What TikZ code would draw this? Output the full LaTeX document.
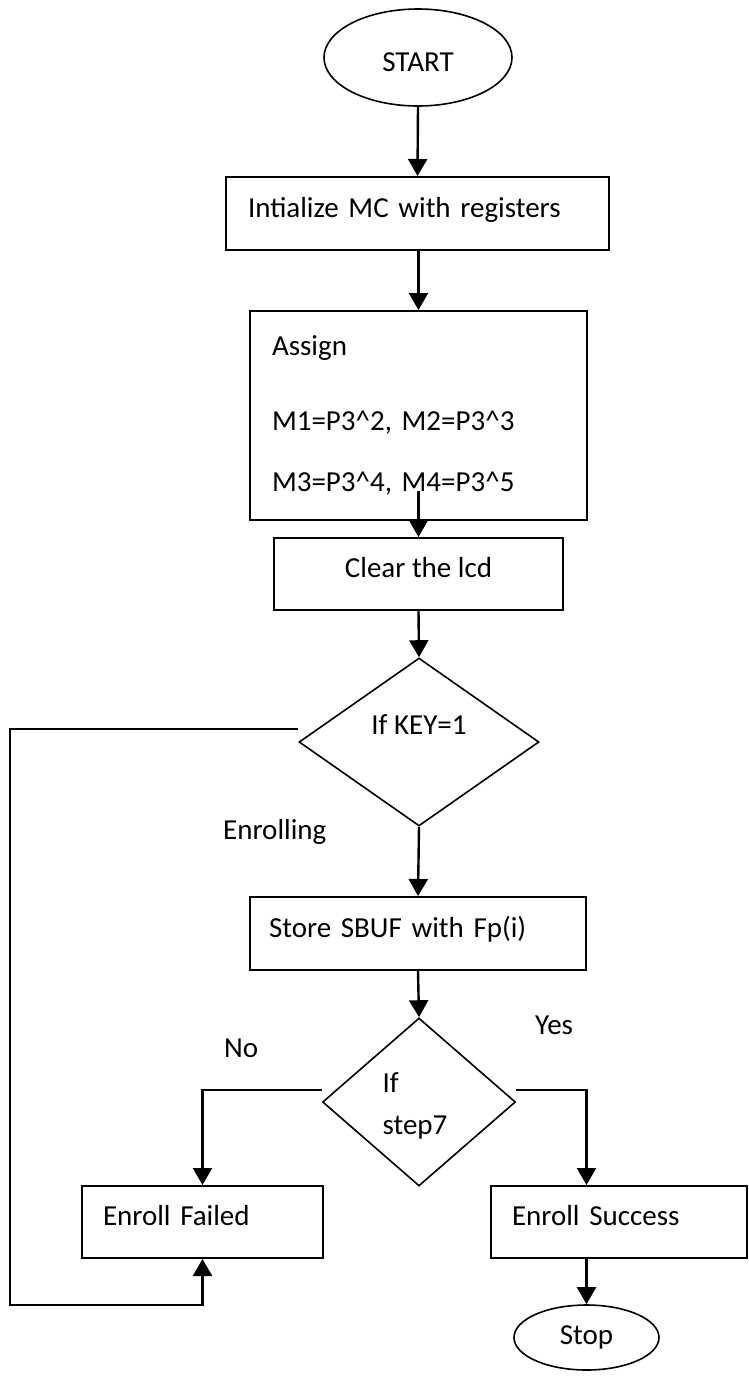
\documentclass[tikz,border=0pt]{standalone}
\usepackage{fontspec}
\setmainfont{Carlito}
\usetikzlibrary{shapes.geometric,arrows.meta}
\begin{document}
\begin{tikzpicture}[x=1pt,y=-1pt,
  font=\fontsize{29}{35}\selectfont,
  boxnode/.style={draw,line width=2pt,rectangle,inner ysep=0pt,minimum height=72pt,text height=22pt,text depth=15pt},
  leftbox/.style={boxnode,align=left,anchor=center},
  ovalnode/.style={draw,line width=1.6pt,ellipse,inner sep=0pt},
  decision/.style={draw,line width=1.6pt,diamond,inner sep=0pt},
  conn/.style={line width=2.4pt,-{Triangle[width=19pt,length=17pt]}}]
\useasboundingbox[fill=white] (0,0) rectangle (748,1377);

\node[ovalnode,minimum width=188pt,minimum height=97pt,label={[yshift=-5pt]center:START}] (start) at (418,57.5) {};

\node[leftbox,minimum width=383pt,minimum height=73pt,inner xsep=22pt,text width=339pt] (init) at (417.5,213.5) {Intialize MC with registers};

\node[draw,line width=2pt,rectangle,minimum width=337pt,minimum height=209pt,inner xsep=22pt,text width=293pt,align=left] (assign) at (418.5,415.5)
  {Assign\\[40pt]M1=P3\^{}2, M2=P3\^{}3\\[26pt]M3=P3\^{}4, M4=P3\^{}5};

\node[boxnode,minimum width=289pt,align=center] (clear) at (418.5,574) {Clear the lcd};

\node[decision,minimum width=240pt,minimum height=168pt,label={[yshift=17pt]center:If KEY=1}] (d1) at (419,742) {};

\node[leftbox,minimum width=336pt,minimum height=73pt,inner xsep=19pt,text width=298pt] (store) at (418,933.5) {Store SBUF with Fp(i)};

\node[decision,minimum width=193pt,minimum height=168pt,label={[align=left,xshift=-4pt,yshift=-4pt]center:If\\[7pt]step7}] (d2) at (419,1102) {};

\node[leftbox,minimum width=241pt,inner xsep=21pt,text width=199pt] (fail) at (202.5,1222) {Enroll Failed};
\node[leftbox,minimum width=256pt,inner xsep=21pt,text width=214pt] (succ) at (619,1222) {Enroll Success};

\node[ovalnode,minimum width=145pt,minimum height=65pt] (stop) at (586.5,1337.5) {Stop};

\node[anchor=west,inner sep=0pt] (enr) at (223,832) {Enrolling};
\node[anchor=west,inner sep=0pt] (yes) at (535,1025) {Yes};
\node[anchor=west,inner sep=0pt] (no) at (224,1048) {No};

\draw[conn] (start.south) -- (init.north);
\draw[conn] (init.south -| assign.north) -- (assign.north);
\draw[conn] ([yshift=30pt]assign.south) -- (clear.north);
\draw[conn] (clear.south) -- (d1.north);
\draw[conn] (d1.south) -- (store.north);
\draw[conn] (store.south) -- (d2.north);
\draw[conn] ([yshift=12pt]d2.west) -| (fail.north);
\draw[conn] ([yshift=12pt]d2.east) -| (stop.north |- succ.north);
\draw[conn] (stop.north |- succ.south) -- (stop.north);
\draw[conn] ([yshift=13pt]d1.west) -- (10,729) -- (10,1305) -| (fail.south);
\end{tikzpicture}
\end{document}
